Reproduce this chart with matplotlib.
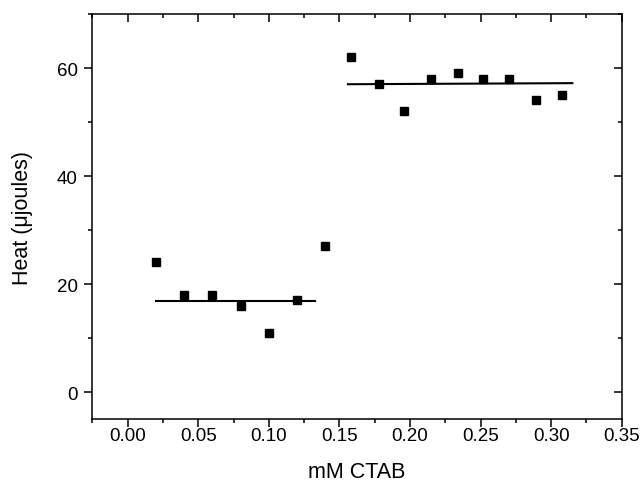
import numpy as np
import matplotlib.pyplot as plt

plt.rcParams['font.family'] = ['Liberation Sans', 'DejaVu Sans']

# data
ctab = [0.02, 0.04, 0.06, 0.08, 0.10, 0.12, 0.14,
        0.158, 0.178, 0.196, 0.215, 0.234, 0.252, 0.270, 0.289, 0.308]
heat = [24, 18, 18, 16, 11, 17, 27,
        62, 57, 52, 58, 59, 58, 58, 54, 55]

fit_low_x = [0.02, 0.133]
fit_low_y = [16.8, 16.8]
fit_high_x = [0.156, 0.315]
fit_high_y = [57.0, 57.2]

#PLOT
fig = plt.figure(figsize=(6.4, 4.85), dpi=100)
ax = fig.add_axes([0.1445, 0.134, 0.827, 0.835])

ax.plot(ctab, heat, 's', color='black', markersize=6, linestyle='none')
ax.plot(fit_low_x, fit_low_y, color='black', lw=1.5)
ax.plot(fit_high_x, fit_high_y, color='black', lw=1.5)

ax.set_xlim(-0.025, 0.35)
ax.set_ylim(-5, 70)
ax.set_xticks(np.arange(0, 0.351, 0.05))
ax.set_xticks(np.arange(-0.025, 0.351, 0.025), minor=True)
ax.set_yticks([0, 20, 40, 60])
ax.set_yticks(np.arange(-0, 71, 10), minor=True)
ax.xaxis.set_major_formatter(plt.FormatStrFormatter('%.2f'))

for s in ax.spines.values():
    s.set_linewidth(1.1)

ax.tick_params(axis='both', which='major', length=5.5, width=1.1,
               labelsize=13.5, direction='out')
ax.tick_params(axis='both', which='minor', length=3, width=1.1, direction='out')
ax.tick_params(axis='x', which='both', pad=0.5)
ax.tick_params(axis='y', which='both', pad=5)
ax.tick_params(which='both', top=True, right=True)
# mirrored ticks point inward
for t in ax.xaxis.get_major_ticks() + ax.xaxis.get_minor_ticks():
    t.tick2line.set_marker(3)
for t in ax.yaxis.get_major_ticks() + ax.yaxis.get_minor_ticks():
    t.tick2line.set_marker(0)

ax.set_xlabel("mM CTAB", fontsize=15.5, labelpad=12)
ax.set_ylabel("Heat (μjoules)", fontsize=15.5, labelpad=17)

fig.savefig("out.png", dpi=100)
